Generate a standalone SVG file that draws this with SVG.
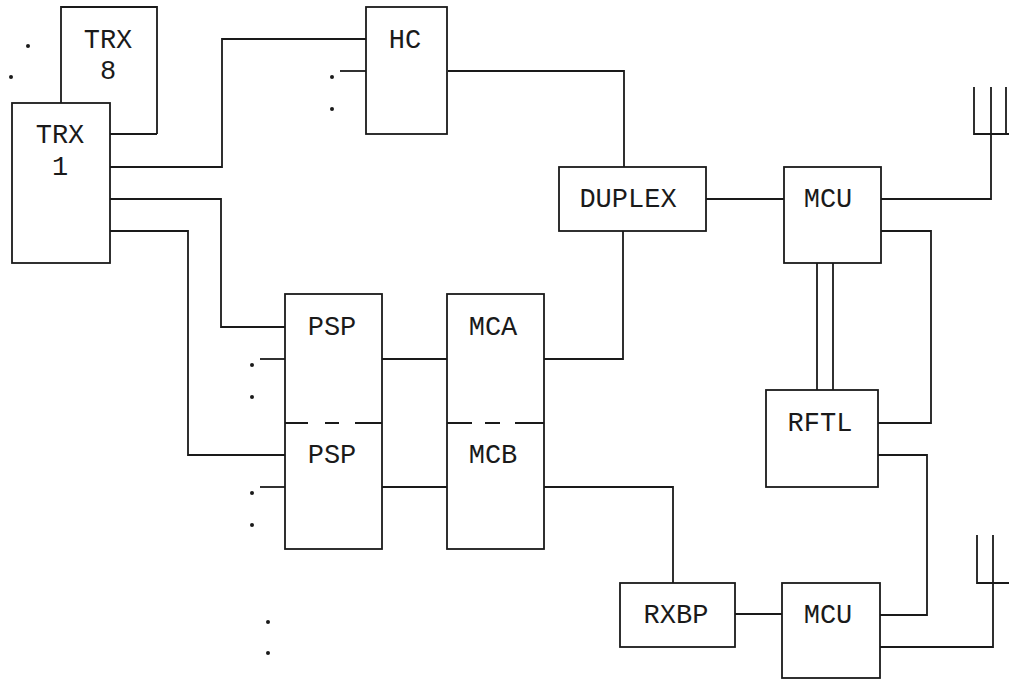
<svg xmlns="http://www.w3.org/2000/svg" width="1009" height="684" viewBox="0 0 1009 684">
<style>
.b{fill:none;stroke:#1a1a1a;stroke-width:1.8}
.c{fill:none;stroke:#1a1a1a;stroke-width:1.8}
.t{font-family:"Liberation Mono","DejaVu Sans Mono",monospace;font-size:27px;fill:#1a1a1a;text-anchor:middle}
.d{fill:#1a1a1a}
</style>
<rect width="1009" height="684" fill="#ffffff"/>
<g id="connectors">
<polyline class="c" points="110,167 222,167 222,39 366,39"/>
<polyline class="c" points="110,199 221,199 221,327 285,327"/>
<polyline class="c" points="110,231 188,231 188,455 285,455"/>
<polyline class="c" points="448,71 624,71 624,167"/>
<polyline class="c" points="340,71 366,71"/>
<polyline class="c" points="623,231 623,359 544,359"/>
<polyline class="c" points="706,199 784,199"/>
<polyline class="c" points="881,199 991,199 991,134"/>
<polyline class="c" points="974,87 974,134 1009,134"/>
<polyline class="c" points="991,87 991,134"/>
<polyline class="c" points="1006,87 1006,134"/>
<polyline class="c" points="881,231 931,231 931,423 878,423"/>
<polyline class="c" points="817,263 817,390"/>
<polyline class="c" points="833,263 833,390"/>
<polyline class="c" points="878,455 927,455 927,615 880,615"/>
<polyline class="c" points="880,647 993,647 993,583"/>
<polyline class="c" points="977,535 977,583 1009,583"/>
<polyline class="c" points="993,535 993,583"/>
<polyline class="c" points="735,614 782,614"/>
<polyline class="c" points="544,487 673,487 673,583"/>
<polyline class="c" points="382,359 447,359"/>
<polyline class="c" points="382,487 447,487"/>
<polyline class="c" points="260,359 285,359"/>
<polyline class="c" points="260,487 285,487"/>
<polyline class="c" points="110,134 157,134"/>
</g>
<g id="dots">
<circle class="d" cx="28" cy="46" r="2"/>
<circle class="d" cx="11" cy="77" r="2"/>
<circle class="d" cx="332" cy="77" r="2"/>
<circle class="d" cx="332" cy="109" r="2"/>
<circle class="d" cx="252" cy="365" r="2"/>
<circle class="d" cx="252" cy="397" r="2"/>
<circle class="d" cx="252" cy="493" r="2"/>
<circle class="d" cx="252" cy="525" r="2"/>
<circle class="d" cx="268" cy="622" r="2"/>
<circle class="d" cx="268" cy="653" r="2"/>
<circle class="d" cx="268" cy="686" r="2"/>
<circle class="d" cx="652" cy="686" r="2"/>
</g>
<g id="trx8">
<polyline class="b" points="61,103 61,7 157,7 157,134"/>
<text class="t" x="108" y="48">TRX</text>
<text class="t" x="108" y="79">8</text>
</g>
<g id="trx1">
<rect class="b" x="12" y="103" width="98" height="160"/>
<text class="t" x="60" y="143">TRX</text>
<text class="t" x="60" y="175">1</text>
</g>
<g id="hc">
<rect class="b" x="366" y="7" width="81" height="127"/>
<text class="t" x="405" y="48">HC</text>
</g>
<g id="duplex">
<rect class="b" x="559" y="167" width="147" height="64"/>
<text class="t" x="628" y="207">DUPLEX</text>
</g>
<g id="mcu1">
<rect class="b" x="784" y="167" width="97" height="96"/>
<text class="t" x="828" y="207">MCU</text>
</g>
<g id="rftl">
<rect class="b" x="766" y="390" width="112" height="97"/>
<text class="t" x="820" y="431">RFTL</text>
</g>
<g id="psp">
<rect class="b" x="285" y="294" width="97" height="255"/>
<path class="b" d="M285,423H308M325,423H339M355,423H382"/>
<text class="t" x="332" y="335">PSP</text>
<text class="t" x="332" y="463">PSP</text>
</g>
<g id="mcab">
<rect class="b" x="447" y="294" width="97" height="255"/>
<path class="b" d="M447,423H472M485,423H500M515,423H544"/>
<text class="t" x="493" y="335">MCA</text>
<text class="t" x="493" y="463">MCB</text>
</g>
<g id="rxbp">
<rect class="b" x="620" y="583" width="115" height="64"/>
<text class="t" x="676" y="623">RXBP</text>
</g>
<g id="mcu2">
<rect class="b" x="782" y="583" width="98" height="95"/>
<text class="t" x="828" y="623">MCU</text>
</g>
</svg>
